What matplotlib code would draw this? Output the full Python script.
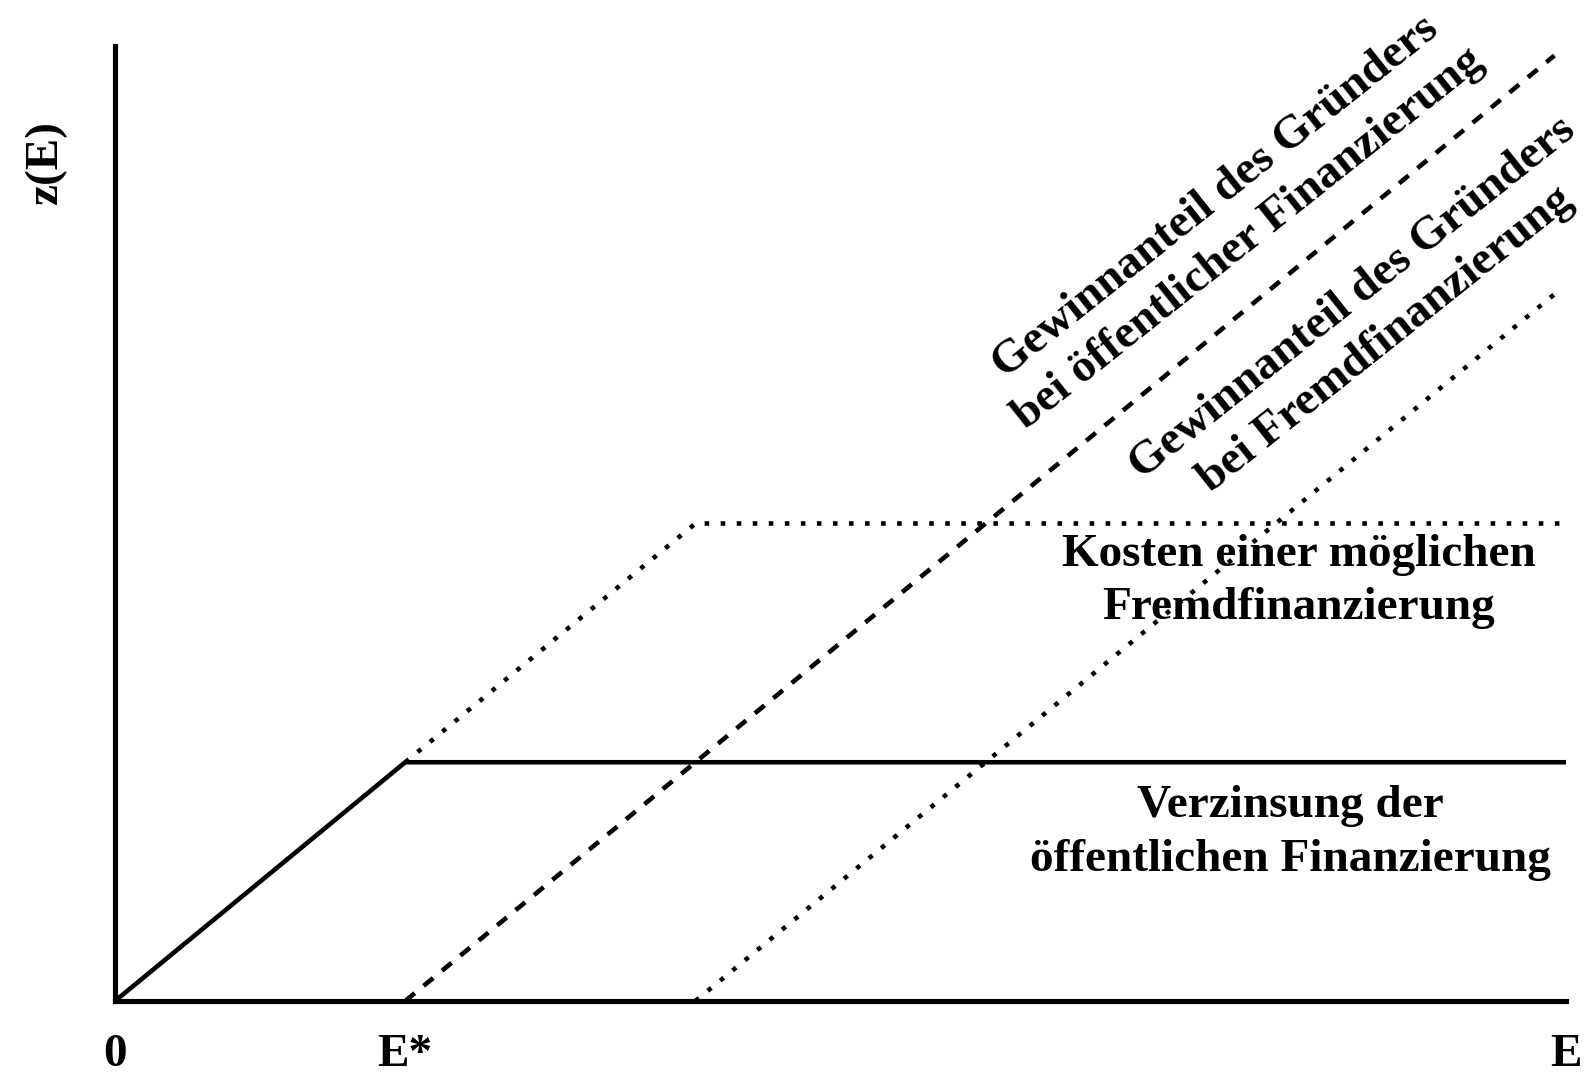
import numpy as np
import matplotlib
matplotlib.use("Agg")
import matplotlib.pyplot as plt

plt.rcParams['font.family'] = ['Liberation Serif', 'DejaVu Serif']
plt.rcParams['font.weight'] = 'bold'

# data (axis units 0..100)
e_star = 20
# Verzinsung der oeffentlichen Finanzierung
zins_x = [0, 20, 100]
zins_y = [0, 25, 25]
# Kosten einer moeglichen Fremdfinanzierung
kosten_x = [20, 40, 100]
kosten_y = [25, 50, 50]
# Gewinnanteil bei oeffentlicher Finanzierung
gew_oeff_x = [20, 99.2]
gew_oeff_y = [0, 99]
# Gewinnanteil bei Fremdfinanzierung
gew_fremd_x = [40, 99.2]
gew_fremd_y = [0, 74]

tick_pos = [0, e_star, 100]
tick_lab = ['0', 'E*', 'E']

fs = 34
lw = 3.3

fig = plt.figure(figsize=(15.94, 10.74), dpi=100)
ax = fig.add_axes([115/1594, 73/1074, 1451/1594, 955/1074])

ax.plot(zins_x, zins_y, color='black', lw=lw, solid_joinstyle='miter')
ax.plot(kosten_x, kosten_y, color='black', lw=lw, linestyle=(0, (1, 2.5)), dash_capstyle='butt')
ax.plot(gew_oeff_x, gew_oeff_y, color='black', lw=lw, linestyle=(0, (2.7, 2.5)), dash_capstyle='butt')
ax.plot(gew_fremd_x, gew_fremd_y, color='black', lw=lw, linestyle=(0, (1, 2.5)), dash_capstyle='butt')

ax.set_xlim(0, 100)
ax.set_ylim(0, 100)
for s in ['top', 'right']:
    ax.spines[s].set_visible(False)
for s in ['left', 'bottom']:
    ax.spines[s].set_linewidth(3.7)
ax.set_xticks(tick_pos)
ax.set_xticklabels(tick_lab, fontsize=fs, fontweight='bold')
ax.tick_params(axis='x', length=0, pad=24)
ax.set_yticks([])
ax.set_ylabel('z(E)', fontsize=fs, fontweight='bold')
ax.yaxis.set_label_coords(-0.033, 0.877)

ax.text(81.6, 43.9, 'Kosten einer möglichen\nFremdfinanzierung', fontsize=fs,
        ha='center', va='center', linespacing=1.35)
ax.text(81.0, 17.6, 'Verzinsung der\nöffentlichen Finanzierung', fontsize=fs,
        ha='center', va='center', linespacing=1.35)

fig.text(1232/1594, 1 - 218/1074, 'Gewinnanteil des Gründers\nbei öffentlicher Finanzierung',
         fontsize=fs, ha='center', va='center', rotation=38.5, rotation_mode='anchor',
         linespacing=1.35)
fig.text(1369/1594, 1 - 319/1074, 'Gewinnanteil des Gründers\nbei Fremdfinanzierung',
         fontsize=fs, ha='center', va='center', rotation=38.5, rotation_mode='anchor',
         linespacing=1.35)

fig.savefig('out.png', dpi=100)
